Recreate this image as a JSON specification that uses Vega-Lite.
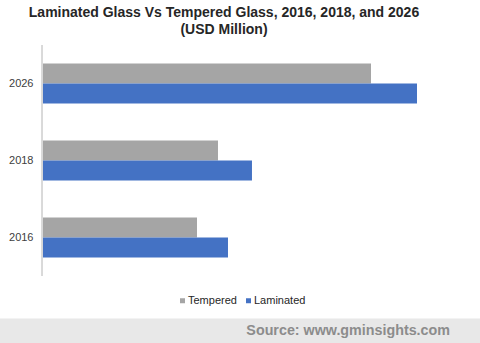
{
  "$schema": "https://vega.github.io/schema/vega-lite/v6.json",
  "padding": {"top": 5, "left": 0, "right": 0, "bottom": 0},
  "background": "white",
  "title": {
    "text": ["Laminated Glass Vs Tempered Glass, 2016, 2018, and 2026", "(USD Million)"],
    "font": "Liberation Sans",
    "fontSize": 14,
    "fontWeight": "bold",
    "color": "#262626",
    "anchor": "middle",
    "lineHeight": 17,
    "offset": 8,
    "dx": -16
  },
  "spacing": 42.5,
  "bounds": "flush",
  "config": {
    "view": {"stroke": null},
    "font": "Liberation Sans"
  },
  "vconcat": [
    {
      "width": 480,
      "height": 231,
      "data": {
        "values": [
          {"year": "2016", "series": "Tempered", "value": 4247},
          {"year": "2016", "series": "Laminated", "value": 5096},
          {"year": "2018", "series": "Tempered", "value": 4822},
          {"year": "2018", "series": "Laminated", "value": 5753},
          {"year": "2026", "series": "Tempered", "value": 9014},
          {"year": "2026", "series": "Laminated", "value": 10274}
        ]
      },
      "layer": [
        {
          "mark": {"type": "bar"},
          "encoding": {
            "y": {
              "field": "year",
              "type": "nominal",
              "sort": ["2026", "2018", "2016"],
              "scale": {"paddingInner": 0.48, "paddingOuter": 0.24},
              "axis": {
                "title": null,
                "domain": false,
                "ticks": false,
                "tickSize": 0,
                "labelPadding": -33,
                "labelFontSize": 11,
                "labelColor": "#404040",
                "labelFont": "Liberation Sans"
              }
            },
            "yOffset": {
              "field": "series",
              "type": "nominal",
              "sort": ["Tempered", "Laminated"],
              "scale": {"paddingInner": 0, "paddingOuter": 0}
            },
            "x": {
              "field": "value",
              "type": "quantitative",
              "scale": {"domain": [-1150, 12000], "nice": false, "zero": false},
              "axis": null
            },
            "color": {
              "field": "series",
              "type": "nominal",
              "sort": ["Tempered", "Laminated"],
              "scale": {"domain": ["Tempered", "Laminated"], "range": ["#a5a5a5", "#4472c4"]},
              "legend": {
                "title": null,
                "orient": "none",
                "direction": "horizontal",
                "legendX": 177,
                "legendY": 250,
                "symbolType": "square",
                "symbolSize": 25,
                "symbolStrokeWidth": 0,
                "labelFontSize": 11,
                "labelColor": "#262626",
                "labelFont": "Liberation Sans",
                "labelOffset": 0,
                "columnPadding": 6,
                "padding": 0
              }
            }
          }
        },
        {
          "mark": {"type": "rule", "color": "#d9d9d9", "strokeWidth": 1},
          "encoding": {
            "x": {"datum": 0, "type": "quantitative"}
          }
        }
      ]
    },
    {
      "width": 480,
      "height": 25,
      "view": {"fill": "#e8e8e8", "stroke": null},
      "data": {"values": [{"source": "Source: www.gminsights.com"}]},
      "mark": {
        "type": "text",
        "align": "right",
        "baseline": "middle",
        "dx": -30,
        "font": "Liberation Sans",
        "fontSize": 14.3,
        "fontWeight": "bold",
        "color": "#8c8c8c"
      },
      "encoding": {
        "text": {"field": "source", "type": "nominal"},
        "x": {"datum": 1, "type": "quantitative", "scale": {"domain": [0, 1], "nice": false}, "axis": null}
      }
    }
  ]
}
